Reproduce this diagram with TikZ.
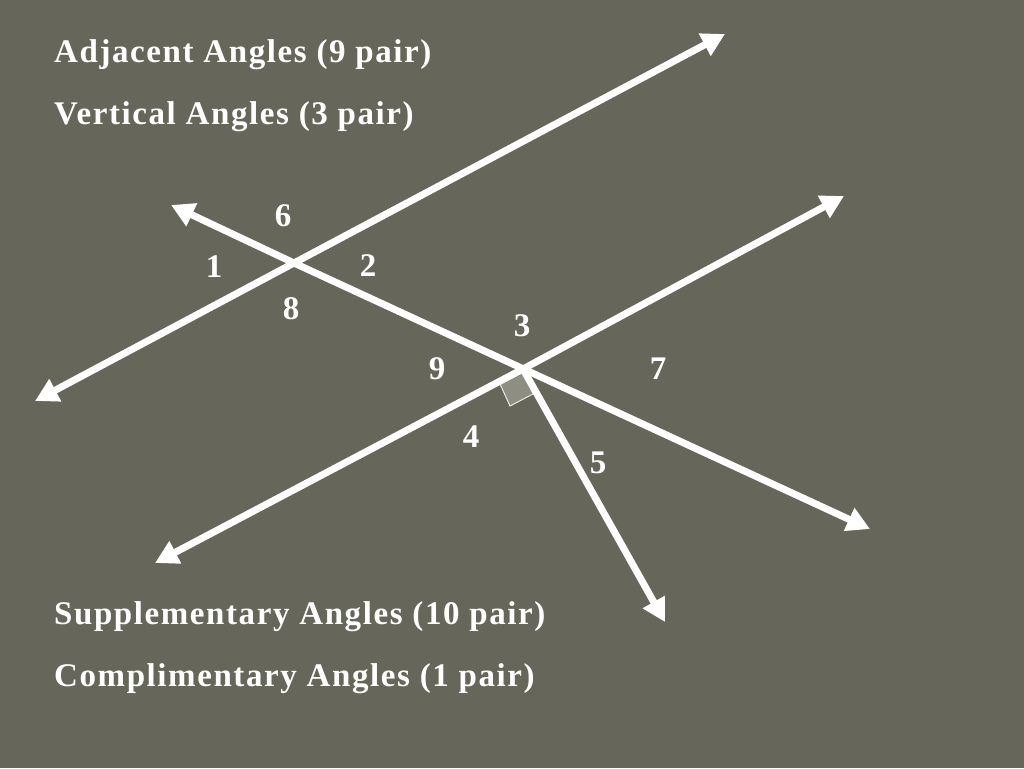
\documentclass[tikz,border=0pt]{standalone}
\usepackage{fontspec}
\setmainfont{Liberation Serif}
\usetikzlibrary{arrows.meta}
\definecolor{slate}{HTML}{66675A}
\definecolor{sqfill}{HTML}{8E8F82}
\newfontfamily\headfont[LetterSpace=4.8]{Liberation Serif}
\tikzset{x=1pt,y=-1pt,
  ray/.style={draw=white,line width=7pt,-{Triangle[length=23pt,width=24pt]}},
  head/.style={anchor=base west,inner sep=0pt,text=white,font=\headfont\fontsize{33}{36}\selectfont\bfseries},
  num/.style={inner sep=0pt,text=white,font=\fontsize{33}{36}\selectfont\bfseries}}
\begin{document}
\begin{tikzpicture}
\useasboundingbox (0,0) rectangle (1024,768);
\fill[slate] (0,0) rectangle (1024,768);
\coordinate (a1) at (294,263);
\coordinate (a2) at (523,369);
\coordinate (l1a) at (35,401);
\coordinate (l1b) at (725,34);
\coordinate (l2a) at (171,205);
\coordinate (l2b) at (870,529);
\coordinate (l3a) at (155,563);
\coordinate (l3b) at (844,196);
\coordinate (r) at (665,622);
\coordinate (s1) at (500,384);
\coordinate (s2) at (510,406);
\coordinate (s3) at (533,394);
\filldraw[fill=sqfill,draw=white!85!slate,line width=1pt] (a2) -- (s1) -- (s2) -- (s3) -- cycle;
\draw[ray] (a1) -- (l1a);
\draw[ray] (a1) -- (l1b);
\draw[ray] (a1) -- (l2a);
\draw[ray] (a1) -- (l2b);
\draw[ray] (a2) -- (l3a);
\draw[ray] (a2) -- (l3b);
\draw[ray] (a2) -- (r);
\node[head] (t1) at (54,63) {Adjacent Angles (9 pair)};
\node[head] (t2) at (54,124) {Vertical Angles (3 pair)};
\node[head] (t3) at (54,624) {Supplementary Angles (10 pair)};
\node[head] (t4) at (54,686) {Complimentary Angles (1 pair)};
\node[num] (n6) at (283,216) {6};
\node[num] (n1) at (214,267) {1};
\node[num] (n2) at (368,266) {2};
\node[num] (n8) at (291,309) {8};
\node[num] (n3) at (522,326) {3};
\node[num] (n9) at (437,369) {9};
\node[num] (n7) at (658,369) {7};
\node[num] (n4) at (471,437) {4};
\node[num] (n5) at (598,463) {5};
\end{tikzpicture}
\end{document}
